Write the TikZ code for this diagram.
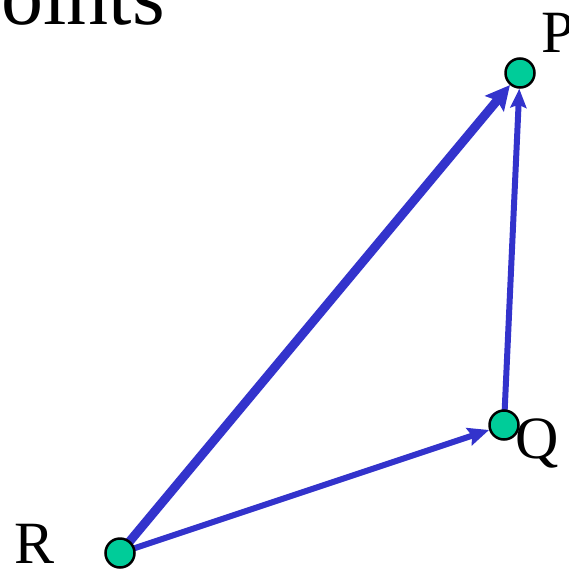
\documentclass[tikz,border=0pt]{standalone}
\usepackage{fontspec}
\setmainfont{Liberation Serif}
\usetikzlibrary{arrows.meta,backgrounds}
\definecolor{vecblue}{RGB}{51,51,204}
\definecolor{dotgreen}{RGB}{0,204,153}
\tikzset{
  dotnode/.style={circle, draw=black, line width=2.5pt, fill=dotgreen, minimum size=29pt, inner sep=0pt},
  lbl/.style={anchor=base west, inner sep=0pt, font=\fontsize{60}{60}\selectfont},
  vec/.style={draw=vecblue, line cap=butt},
}
\begin{document}
\begin{tikzpicture}[x=1pt,y=-1pt]
\useasboundingbox (0,0) rectangle (568,570);
\clip (0,0) rectangle (568,570);
\node[anchor=base east, inner sep=0pt, font=\fontsize{84}{84}\selectfont] (title) at (165,24) {Points};
\node[dotnode] (P) at (520,73) {};
\node[dotnode] (Q) at (504,425) {};
\node[dotnode] (R) at (120,553) {};
\node[lbl] (Plbl) at (541,52) {P};
\node[lbl] (Qlbl) at (515,458) {Q};
\node[lbl] (Rlbl) at (14,563) {R};
\begin{scope}[on background layer]
\draw[vec, line width=9pt, -{Stealth[length=24pt,width=24pt,inset=4pt]}] (R.center) -- (P);
\draw[vec, line width=6pt, -{Stealth[length=21pt,width=18pt,inset=3pt]}] (R.center) -- (Q);
\draw[vec, line width=6pt, -{Stealth[length=19pt,width=16pt,inset=3pt]}] (Q.center) -- (P);
\end{scope}
\end{tikzpicture}
\end{document}
